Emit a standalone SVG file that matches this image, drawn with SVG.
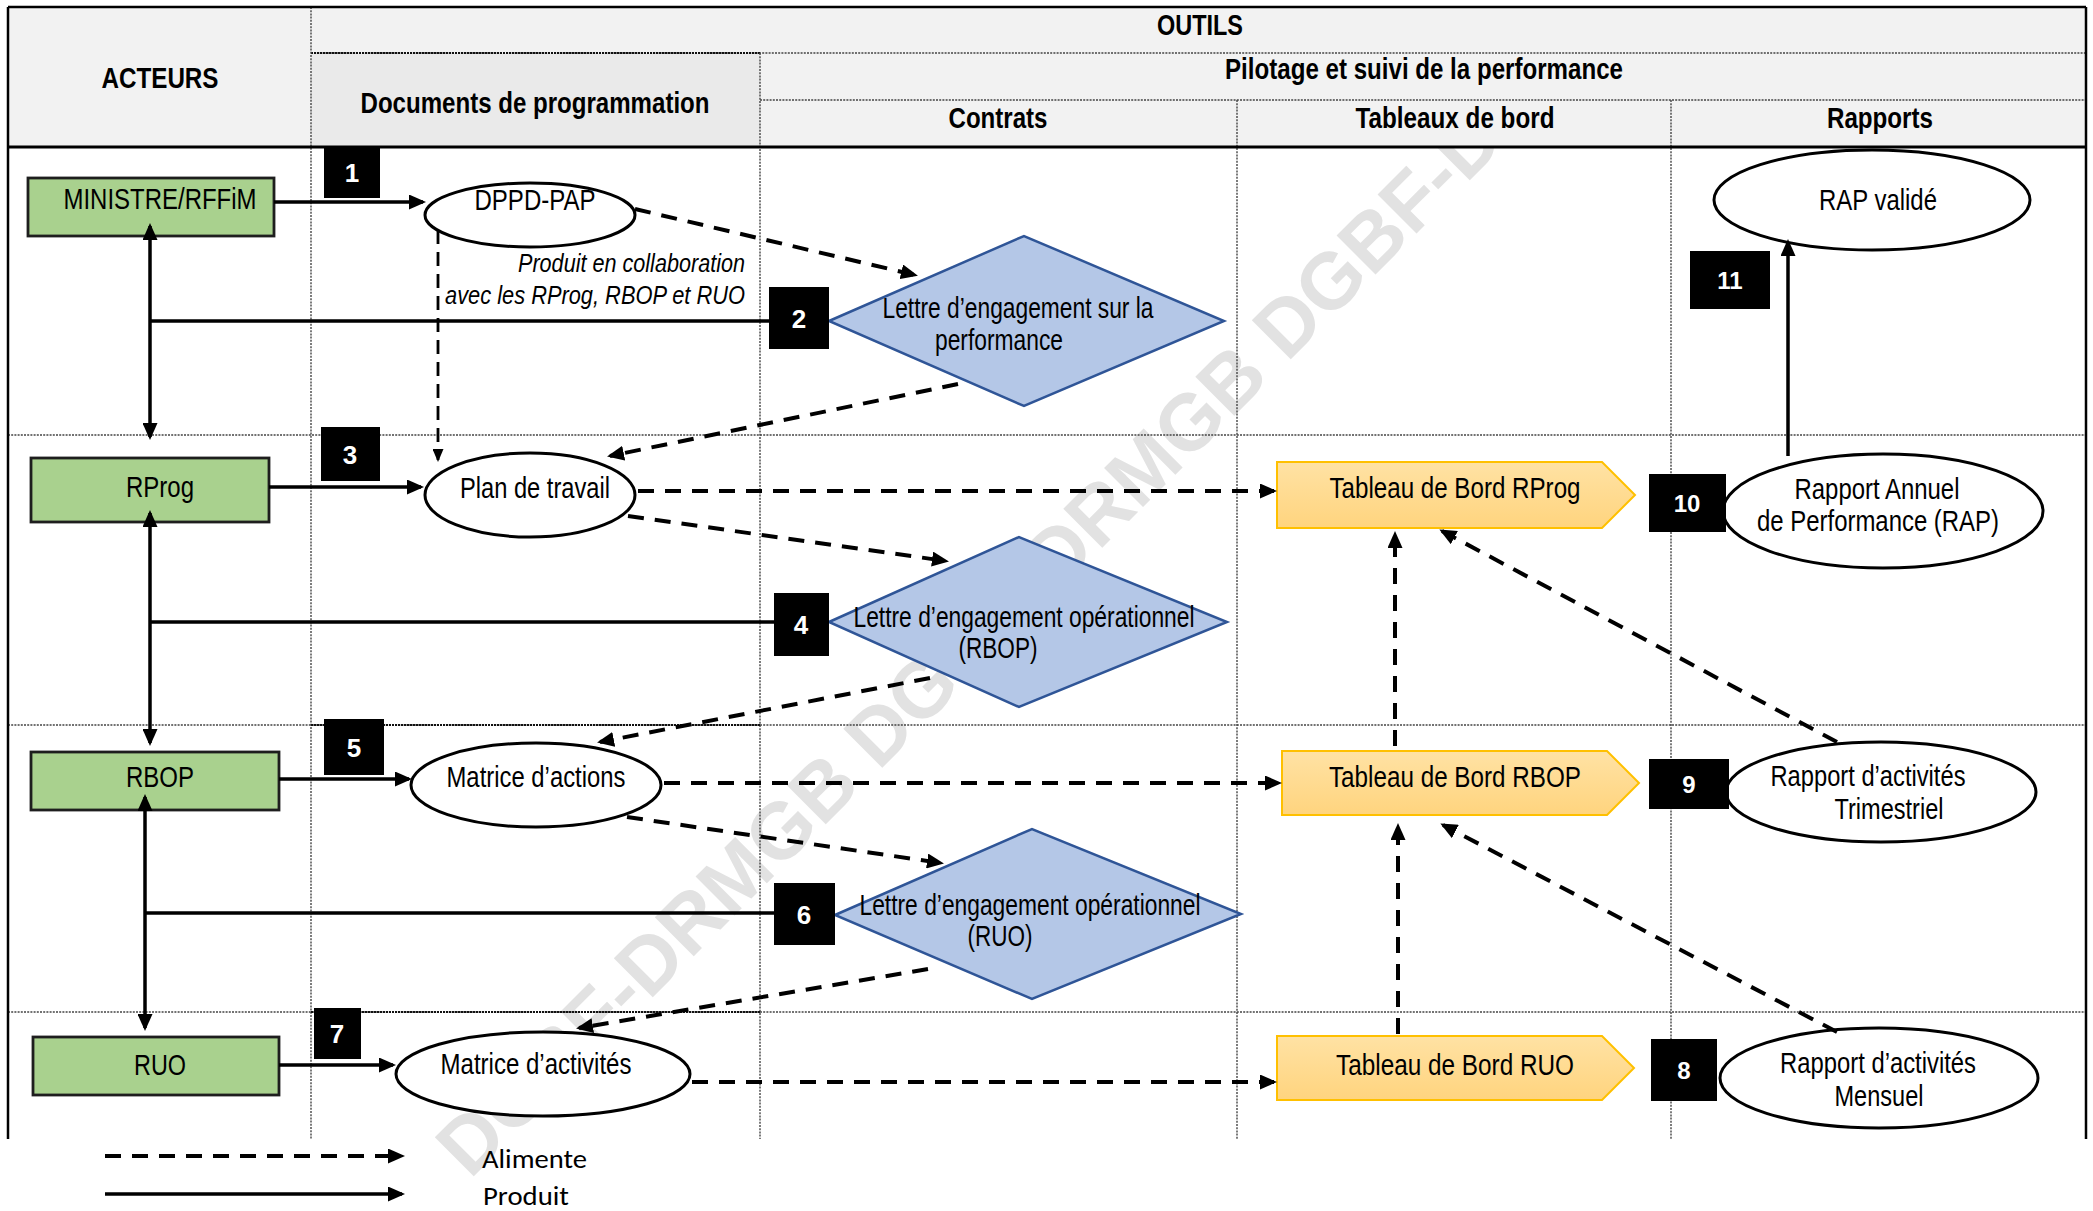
<svg xmlns="http://www.w3.org/2000/svg" width="2093" height="1211" viewBox="0 0 2093 1211">
<style>
.t{font-family:"Liberation Sans Narrow","Liberation Sans",Arial,sans-serif;font-size:29px;fill:#000;text-anchor:middle}
.h{font-weight:bold;font-size:29px}
.it{font-style:italic;font-size:25px;text-anchor:end}
.lg{font-family:"Carlito","Lato","Liberation Sans",sans-serif;font-size:27px;fill:#000}
.grid{stroke:#444;stroke-width:1.4;stroke-dasharray:2 1.2;fill:none}
.gridd{stroke:#111;stroke-width:1.8;stroke-dasharray:2 1;fill:none}
.border{stroke:#000;stroke-width:2.5;fill:none}
.solid{stroke:#000;stroke-width:3.5;fill:none}
.dash{stroke:#000;stroke-width:4;stroke-dasharray:16 11;fill:none}
.dthin{stroke:#000;stroke-width:2.8;stroke-dasharray:14 8;fill:none}
.actor rect{fill:#A9D18E;stroke:#1E1E1E;stroke-width:2.8}
.doc ellipse{fill:#fff;stroke:#000;stroke-width:3}
.ctr polygon{fill:#B4C7E7;stroke:#2F5597;stroke-width:2.5}
.tdb polygon{fill:url(#gOr);stroke:#FFC000;stroke-width:2}
.num rect{fill:#000}
.num text{font-family:"Liberation Sans",Arial,sans-serif;font-weight:bold;font-size:26px;fill:#fff;text-anchor:middle}
.num .w{font-size:24px}
.wm{font-family:"Liberation Sans",Arial,sans-serif;font-weight:bold;font-size:80px;fill:#E2E2E2}
</style>
<defs>
<linearGradient id="gOr" x1="0" y1="0" x2="0" y2="1">
<stop offset="0" stop-color="#FFE2A4"/>
<stop offset="1" stop-color="#FFD47E"/>
</linearGradient>
<marker id="ah" markerUnits="userSpaceOnUse" markerWidth="17" markerHeight="15" refX="14" refY="7.5" orient="auto-start-reverse">
<path d="M0,0 L17,7.5 L0,15 z" fill="#000"/>
</marker>
<marker id="ahs" markerUnits="userSpaceOnUse" markerWidth="13" markerHeight="11" refX="11" refY="5.5" orient="auto">
<path d="M0,0 L13,5.5 L0,11 z" fill="#000"/>
</marker>
</defs>

<rect x="0" y="0" width="2093" height="1211" fill="#fff"/>

<!-- watermark -->
<text class="wm" transform="translate(470,1180) rotate(-45)">DGBF-DRMGB DGBF-DRMGB DGBF-DR</text>

<!-- header -->
<g id="header">
<rect x="8" y="7" width="2078" height="140" fill="#F2F2F2"/>
<rect x="311" y="53" width="449" height="94" fill="#EAEAEA"/>
<line class="grid" x1="311" y1="53" x2="2086" y2="53"/>
<line class="gridd" x1="311" y1="53" x2="760" y2="53"/>
<line class="grid" x1="760" y1="100" x2="2086" y2="100"/>
<text class="t h" x="1200" y="35" textLength="86" lengthAdjust="spacingAndGlyphs">OUTILS</text>
<text class="t h" x="160" y="88" textLength="117" lengthAdjust="spacingAndGlyphs">ACTEURS</text>
<text class="t h" x="535" y="113" textLength="349" lengthAdjust="spacingAndGlyphs">Documents de programmation</text>
<text class="t h" x="1424" y="79" textLength="398" lengthAdjust="spacingAndGlyphs">Pilotage et suivi de la performance</text>
<text class="t h" x="998" y="128" textLength="99" lengthAdjust="spacingAndGlyphs">Contrats</text>
<text class="t h" x="1455" y="128" textLength="199" lengthAdjust="spacingAndGlyphs">Tableaux de bord</text>
<text class="t h" x="1880" y="128" textLength="106" lengthAdjust="spacingAndGlyphs">Rapports</text>
</g>

<!-- grid -->
<g id="grid">
<line class="grid" x1="311" y1="7" x2="311" y2="1139"/>
<line class="grid" x1="760" y1="53" x2="760" y2="1139"/>
<line class="grid" x1="1237" y1="100" x2="1237" y2="1139"/>
<line class="grid" x1="1671" y1="100" x2="1671" y2="1139"/>
<line class="grid" x1="8" y1="435" x2="2086" y2="435"/>
<line class="grid" x1="8" y1="725" x2="2086" y2="725"/>
<line class="grid" x1="8" y1="1012" x2="2086" y2="1012"/>
<line class="gridd" x1="311" y1="725" x2="760" y2="725"/>
<line class="gridd" x1="311" y1="1012" x2="760" y2="1012"/>
<line class="border" x1="8" y1="7" x2="2086" y2="7"/>
<line class="border" x1="8" y1="7" x2="8" y2="1139"/>
<line class="border" x1="2086" y1="7" x2="2086" y2="1139"/>
<line stroke="#000" stroke-width="3" x1="8" y1="147" x2="2086" y2="147"/>
</g>

<!-- actors -->
<g id="n-ministre" class="actor"><rect x="28" y="178" width="246" height="58"/><text class="t" x="160" y="209" textLength="193" lengthAdjust="spacingAndGlyphs">MINISTRE/RFFiM</text></g>
<g id="n-rprog" class="actor"><rect x="31" y="458" width="238" height="64"/><text class="t" x="160" y="497" textLength="68" lengthAdjust="spacingAndGlyphs">RProg</text></g>
<g id="n-rbop" class="actor"><rect x="31" y="752" width="248" height="58"/><text class="t" x="160" y="787" textLength="68" lengthAdjust="spacingAndGlyphs">RBOP</text></g>
<g id="n-ruo" class="actor"><rect x="33" y="1037" width="246" height="58"/><text class="t" x="160" y="1075" textLength="52" lengthAdjust="spacingAndGlyphs">RUO</text></g>

<!-- documents -->
<g id="n-dppd" class="doc"><ellipse cx="530" cy="215" rx="105" ry="32"/><text class="t" x="535" y="210" textLength="121" lengthAdjust="spacingAndGlyphs">DPPD-PAP</text></g>
<g id="n-note"><text class="t it" x="745" y="272" textLength="227" lengthAdjust="spacingAndGlyphs">Produit en collaboration</text><text class="t it" x="745" y="304" textLength="300" lengthAdjust="spacingAndGlyphs">avec les RProg, RBOP et RUO</text></g>
<g id="n-plan" class="doc"><ellipse cx="530" cy="495" rx="105" ry="42"/><text class="t" x="535" y="498" textLength="150" lengthAdjust="spacingAndGlyphs">Plan de travail</text></g>
<g id="n-matact" class="doc"><ellipse cx="536" cy="785" rx="125" ry="42"/><text class="t" x="536" y="787" textLength="179" lengthAdjust="spacingAndGlyphs">Matrice d’actions</text></g>
<g id="n-matactiv" class="doc"><ellipse cx="543" cy="1074" rx="147" ry="42"/><text class="t" x="536" y="1074" textLength="191" lengthAdjust="spacingAndGlyphs">Matrice d’activités</text></g>

<!-- contracts -->
<g id="n-lettre-perf" class="ctr"><polygon points="829,321 1024,236 1224,321 1024,406"/><text class="t" x="1018" y="318" font-size="28" textLength="271" lengthAdjust="spacingAndGlyphs">Lettre d’engagement sur la</text><text class="t" x="999" y="350" font-size="28" textLength="128" lengthAdjust="spacingAndGlyphs">performance</text></g>
<g id="n-lettre-rbop" class="ctr"><polygon points="829,622 1019,537 1227,622 1019,707"/><text class="t" x="1024" y="627" font-size="28" textLength="341" lengthAdjust="spacingAndGlyphs">Lettre d’engagement opérationnel</text><text class="t" x="998" y="658" font-size="28" textLength="79" lengthAdjust="spacingAndGlyphs">(RBOP)</text></g>
<g id="n-lettre-ruo" class="ctr"><polygon points="835,915 1032,829 1241,914 1032,999"/><text class="t" x="1030" y="915" font-size="28" textLength="341" lengthAdjust="spacingAndGlyphs">Lettre d’engagement opérationnel</text><text class="t" x="1000" y="946" font-size="28" textLength="65" lengthAdjust="spacingAndGlyphs">(RUO)</text></g>

<!-- dashboards -->
<g id="n-tdb-rprog" class="tdb"><polygon points="1277,462 1602,462 1635,495 1602,528 1277,528"/><text class="t" x="1455" y="498" textLength="251" lengthAdjust="spacingAndGlyphs">Tableau de Bord RProg</text></g>
<g id="n-tdb-rbop" class="tdb"><polygon points="1282,751 1607,751 1639,783 1607,815 1282,815"/><text class="t" x="1455" y="787" textLength="252" lengthAdjust="spacingAndGlyphs">Tableau de Bord RBOP</text></g>
<g id="n-tdb-ruo" class="tdb"><polygon points="1277,1036 1602,1036 1634,1068 1602,1100 1277,1100"/><text class="t" x="1455" y="1075" textLength="238" lengthAdjust="spacingAndGlyphs">Tableau de Bord RUO</text></g>

<!-- reports -->
<g id="n-rapvalide" class="doc"><ellipse cx="1872" cy="200" rx="158" ry="50"/><text class="t" x="1878" y="210" textLength="118" lengthAdjust="spacingAndGlyphs">RAP validé</text></g>
<g id="n-rap" class="doc"><ellipse cx="1883" cy="511" rx="160" ry="57"/><text class="t" x="1877" y="499" textLength="165" lengthAdjust="spacingAndGlyphs">Rapport Annuel</text><text class="t" x="1878" y="531" textLength="242" lengthAdjust="spacingAndGlyphs">de Performance (RAP)</text></g>
<g id="n-trim" class="doc"><ellipse cx="1881" cy="792" rx="155" ry="50"/><text class="t" x="1868" y="786" textLength="195" lengthAdjust="spacingAndGlyphs">Rapport d’activités</text><text class="t" x="1889" y="819" textLength="109" lengthAdjust="spacingAndGlyphs">Trimestriel</text></g>
<g id="n-mens" class="doc"><ellipse cx="1879" cy="1078" rx="159" ry="50"/><text class="t" x="1878" y="1073" textLength="196" lengthAdjust="spacingAndGlyphs">Rapport d’activités</text><text class="t" x="1879" y="1106" textLength="89" lengthAdjust="spacingAndGlyphs">Mensuel</text></g>

<!-- connectors -->
<g id="connectors">
<path class="solid" d="M150,226 L150,437" marker-start="url(#ah)" marker-end="url(#ah)"/>
<path class="solid" d="M150,321 L770,321"/>
<path class="solid" d="M150,513 L150,743" marker-start="url(#ah)" marker-end="url(#ah)"/>
<path class="solid" d="M150,622 L775,622"/>
<path class="solid" d="M145,797 L145,1028" marker-start="url(#ah)" marker-end="url(#ah)"/>
<path class="solid" d="M145,913 L775,913"/>
<path class="solid" d="M274,202 L423,202" marker-end="url(#ah)"/>
<path class="solid" d="M269,487 L421,487" marker-end="url(#ah)"/>
<path class="solid" d="M279,779 L409,779" marker-end="url(#ah)"/>
<path class="solid" d="M279,1065 L393,1065" marker-end="url(#ah)"/>
<path class="solid" d="M1788,456 L1788,242" marker-end="url(#ah)"/>

<path class="dash" d="M635,209 L915,275" marker-end="url(#ah)"/>
<path class="dthin" d="M438,230 L438,460" marker-end="url(#ahs)"/>
<path class="dash" d="M958,384 L610,456" marker-end="url(#ah)"/>
<path class="dash" d="M638,491 L1274,491" marker-end="url(#ah)"/>
<path class="dash" d="M628,516 L946,561" marker-end="url(#ah)"/>
<path class="dash" d="M930,678 L600,742" marker-end="url(#ah)"/>
<path class="dash" d="M664,783 L1279,783" marker-end="url(#ah)"/>
<path class="dash" d="M627,817 L941,863" marker-end="url(#ah)"/>
<path class="dash" d="M928,969 L579,1028" marker-end="url(#ah)"/>
<path class="dash" d="M692,1082 L1274,1082" marker-end="url(#ah)"/>
<path class="dash" d="M1398,1034 L1398,826" marker-end="url(#ah)"/>
<path class="dash" d="M1395,746 L1395,534" marker-end="url(#ah)"/>
<path class="dash" d="M1837,742 L1442,531" marker-end="url(#ah)"/>
<path class="dash" d="M1837,1032 L1443,825" marker-end="url(#ah)"/>
</g>

<!-- step numbers -->
<g id="s1" class="num"><rect x="324" y="147" width="56" height="51"/><text x="352" y="182">1</text></g>
<g id="s2" class="num"><rect x="769" y="287" width="60" height="62"/><text x="799" y="328">2</text></g>
<g id="s3" class="num"><rect x="321" y="427" width="59" height="54"/><text x="350" y="464">3</text></g>
<g id="s4" class="num"><rect x="774" y="593" width="55" height="63"/><text x="801" y="634">4</text></g>
<g id="s5" class="num"><rect x="324" y="719" width="60" height="56"/><text x="354" y="757">5</text></g>
<g id="s6" class="num"><rect x="774" y="883" width="61" height="62"/><text x="804" y="924">6</text></g>
<g id="s7" class="num"><rect x="314" y="1008" width="47" height="51"/><text x="337" y="1043">7</text></g>
<g id="s8" class="num"><rect x="1651" y="1039" width="66" height="62"/><text class="w" x="1684" y="1079">8</text></g>
<g id="s9" class="num"><rect x="1649" y="759" width="80" height="50"/><text class="w" x="1689" y="793">9</text></g>
<g id="s10" class="num"><rect x="1649" y="474" width="77" height="58"/><text class="w" x="1687" y="512">10</text></g>
<g id="s11" class="num"><rect x="1690" y="251" width="80" height="58"/><text class="w" x="1730" y="289">11</text></g>

<!-- legend -->
<g id="legend">
<path class="dash" d="M105,1156 L402,1156" marker-end="url(#ah)"/>
<path class="solid" d="M105,1194 L402,1194" marker-end="url(#ah)"/>
<text class="lg" x="482" y="1168" textLength="105" lengthAdjust="spacingAndGlyphs">Alimente</text>
<text class="lg" x="483" y="1205" textLength="86" lengthAdjust="spacingAndGlyphs">Produit</text>
</g>
</svg>
